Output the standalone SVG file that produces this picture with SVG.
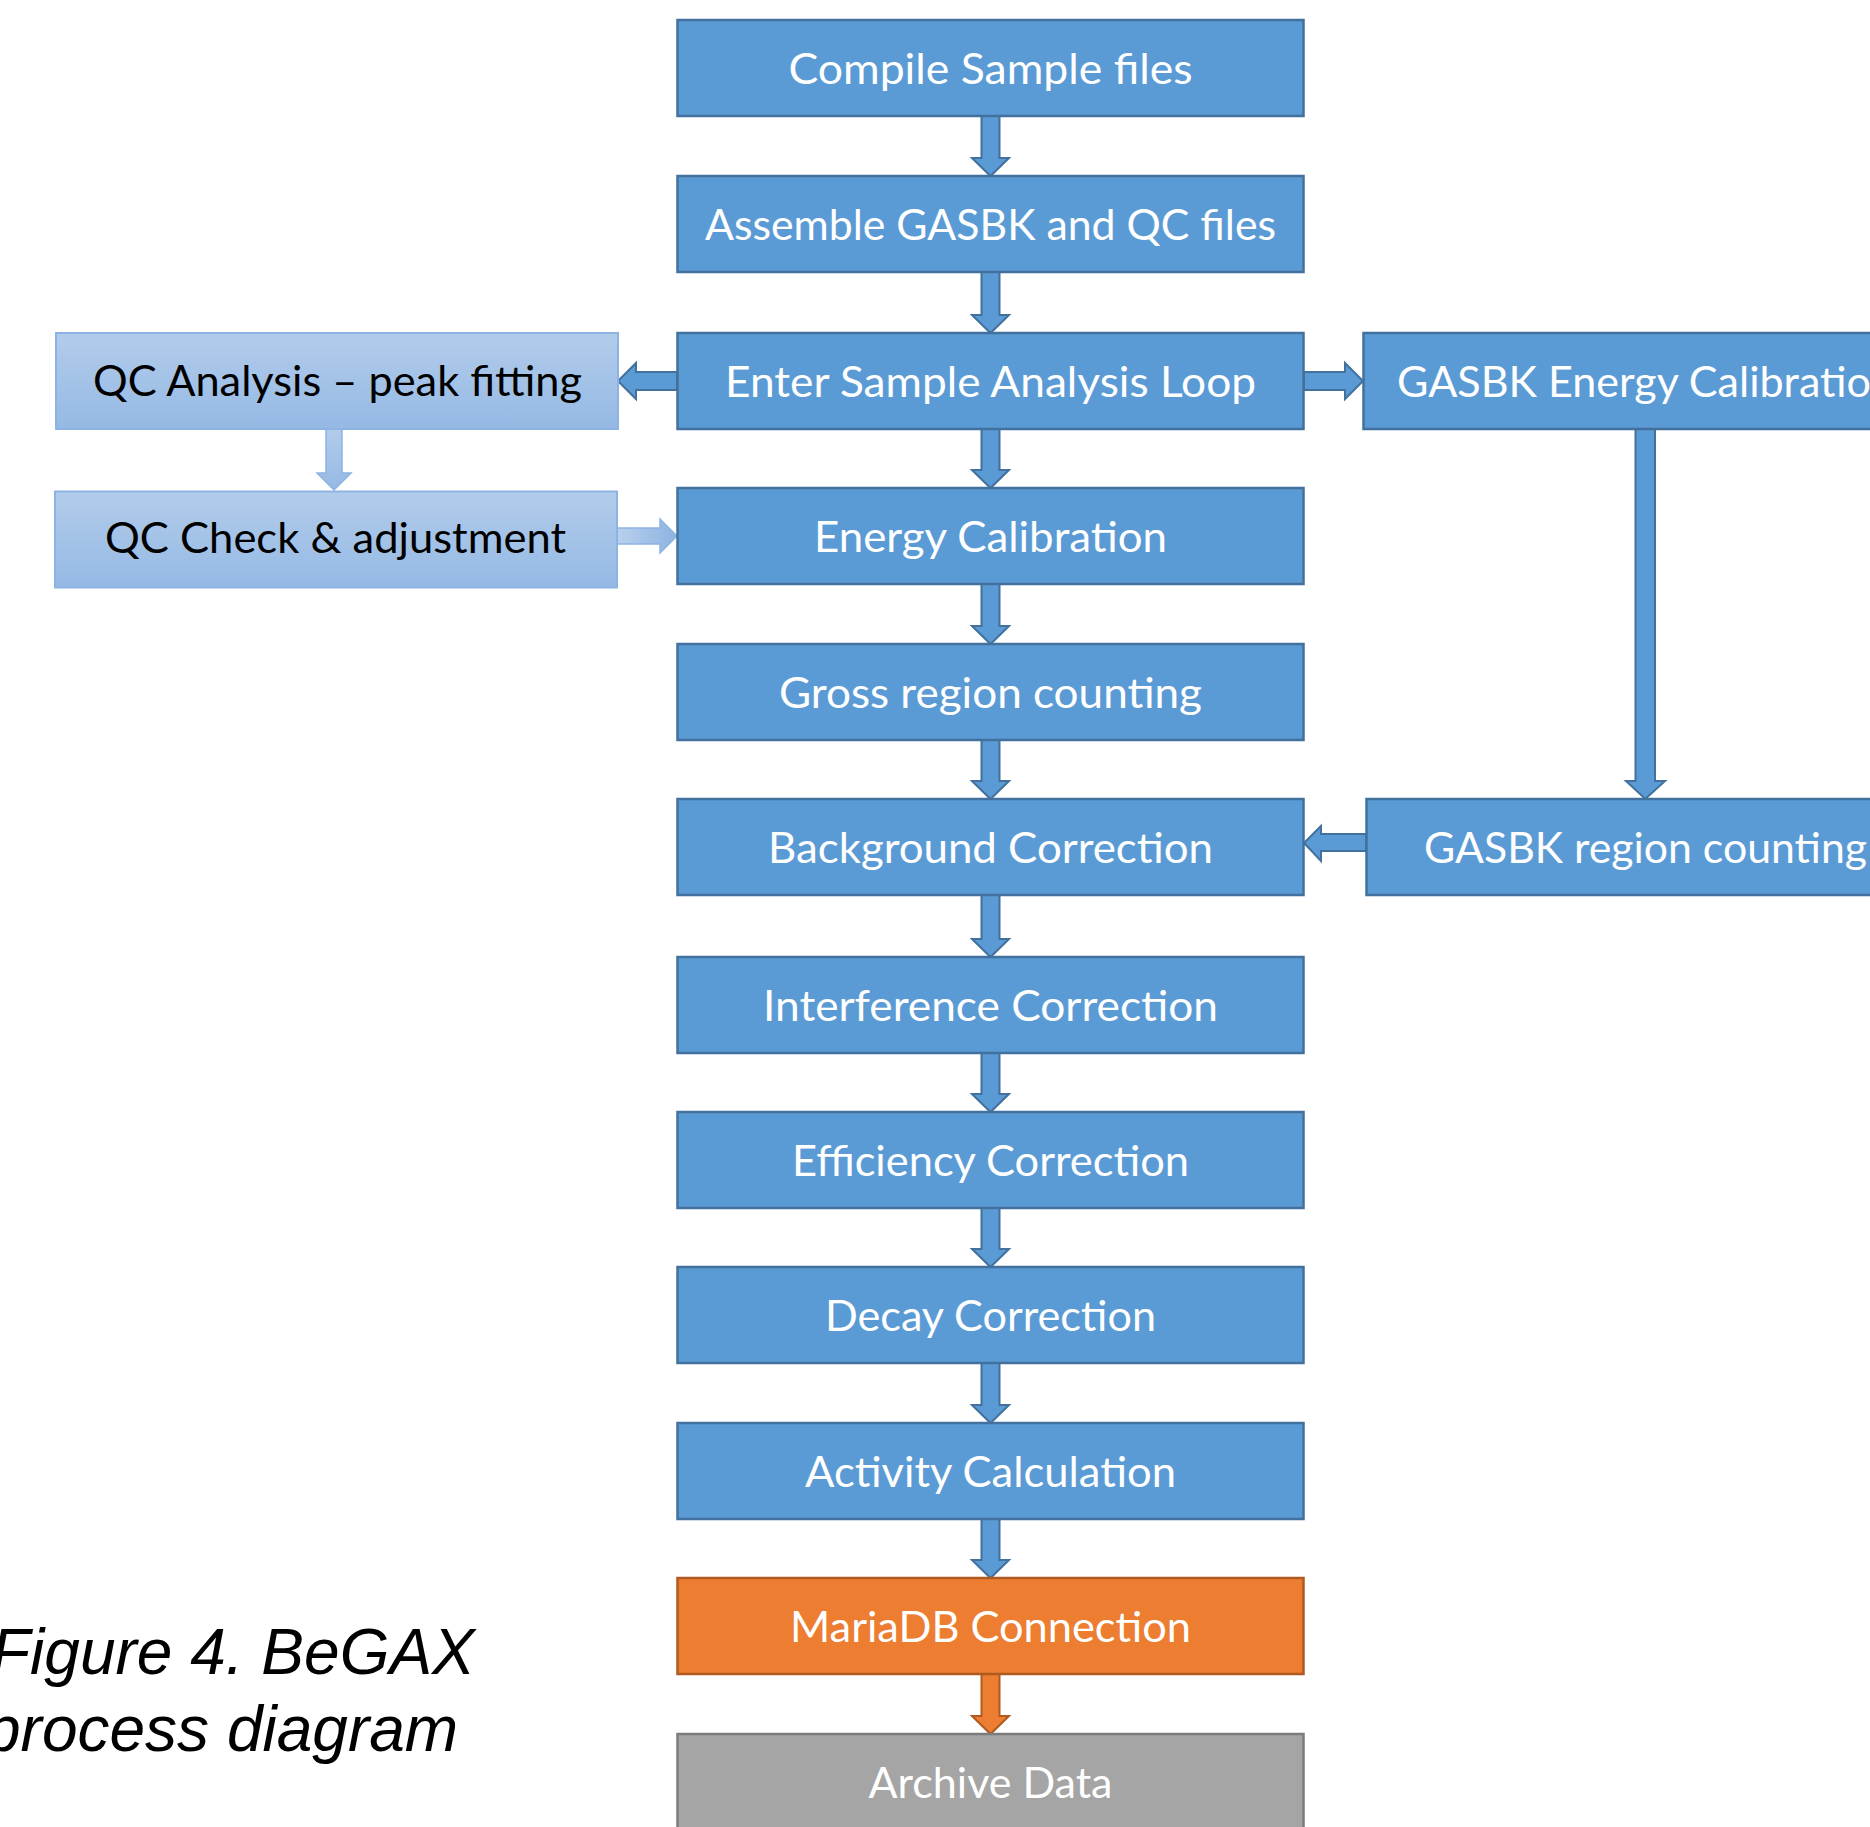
<svg xmlns="http://www.w3.org/2000/svg" width="1870" height="1827" viewBox="0 0 1870 1827">
<defs>
<linearGradient id="lg" x1="0" y1="0" x2="0" y2="1">
<stop offset="0" stop-color="#b2cceb"/>
<stop offset="1" stop-color="#95b9e4"/>
</linearGradient>
<linearGradient id="lgh" x1="0" y1="0" x2="1" y2="0">
<stop offset="0" stop-color="#b8d0ed"/>
<stop offset="1" stop-color="#8db3e2"/>
</linearGradient>
<style>
.main{fill:#5b9bd5;stroke:#41719c;stroke-width:2.5}
.light{fill:url(#lg);stroke:#8db3e2;stroke-width:2}
.orange{fill:#ed7d31;stroke:#ae5a21;stroke-width:2.5}
.gray{fill:#a5a5a5;stroke:#7c7c7c;stroke-width:2.5}
.t{font-family:Lato,"Open Sans","DejaVu Sans",sans-serif;font-size:42px;fill:#ffffff;text-anchor:middle}
.tl{font-family:Lato,"Open Sans","DejaVu Sans",sans-serif;font-size:42px;fill:#000000;text-anchor:middle}
.ts{font-family:Lato,"Open Sans","DejaVu Sans",sans-serif;font-size:42px;fill:#ffffff}
.ab{fill:#5b9bd5;stroke:#41719c;stroke-width:2}
.ao{fill:#ed7d31;stroke:#ae5a21;stroke-width:2}
.al{fill:url(#lg);stroke:#8db3e2;stroke-width:1.5}
.alh{fill:url(#lgh);stroke:#8db3e2;stroke-width:1.5}
.cap{font-family:"Liberation Sans",Arial,sans-serif;font-size:64px;font-style:italic;fill:#000000}
</style>
</defs>
<rect width="1870" height="1827" fill="#ffffff"/>

<g id="connectors">
<polygon class="ab" points="981.5,116 999.5,116 999.5,158 1009,158 990.5,176 972,158 981.5,158"/>
<polygon class="ab" points="981.5,272 999.5,272 999.5,315 1009,315 990.5,333 972,315 981.5,315"/>
<polygon class="ab" points="981.5,429 999.5,429 999.5,470 1009,470 990.5,488 972,470 981.5,470"/>
<polygon class="ab" points="981.5,584 999.5,584 999.5,626 1009,626 990.5,644 972,626 981.5,626"/>
<polygon class="ab" points="981.5,740 999.5,740 999.5,781 1009,781 990.5,799 972,781 981.5,781"/>
<polygon class="ab" points="981.5,895 999.5,895 999.5,939 1009,939 990.5,957 972,939 981.5,939"/>
<polygon class="ab" points="981.5,1053 999.5,1053 999.5,1094 1009,1094 990.5,1112 972,1094 981.5,1094"/>
<polygon class="ab" points="981.5,1208 999.5,1208 999.5,1249 1009,1249 990.5,1267 972,1249 981.5,1249"/>
<polygon class="ab" points="981.5,1363 999.5,1363 999.5,1405 1009,1405 990.5,1423 972,1405 981.5,1405"/>
<polygon class="ab" points="981.5,1519 999.5,1519 999.5,1560 1009,1560 990.5,1578 972,1560 981.5,1560"/>
<polygon class="ao" points="981.5,1674 999.5,1674 999.5,1716 1009,1716 990.5,1734 972,1716 981.5,1716"/>
<polygon class="ab" points="677,372 636,372 636,363 618,381 636,399 636,390 677,390"/>
<polygon class="ab" points="1304,372 1345,372 1345,363 1363,381 1345,399 1345,390 1304,390"/>
<polygon class="al" points="326,429 342,429 342,473 351,473 334,490 317,473 326,473"/>
<polygon class="alh" points="617,528 660,528 660,519 677,536 660,553 660,544 617,544"/>
<polygon class="ab" points="1635.5,429 1655,429 1655,781 1665,781 1645.3,799 1626,781 1635.5,781"/>
<polygon class="ab" points="1366,834 1321,834 1321,826 1304,843 1321,861 1321,851 1366,851"/>
</g>

<g id="n1"><rect class="main" x="677.5" y="20" width="626" height="96"/><text class="t" x="990.5" y="84" textLength="404" lengthAdjust="spacingAndGlyphs">Compile Sample files</text></g>
<g id="n2"><rect class="main" x="677.5" y="176" width="626" height="96"/><text class="t" x="990.5" y="240" textLength="571" lengthAdjust="spacingAndGlyphs">Assemble GASBK and QC files</text></g>
<g id="n3"><rect class="main" x="677.5" y="333" width="626" height="96"/><text class="t" x="990.5" y="397" textLength="531" lengthAdjust="spacingAndGlyphs">Enter Sample Analysis Loop</text></g>
<g id="n4"><rect class="main" x="677.5" y="488" width="626" height="96"/><text class="t" x="990.5" y="552" textLength="353" lengthAdjust="spacingAndGlyphs">Energy Calibration</text></g>
<g id="n5"><rect class="main" x="677.5" y="644" width="626" height="96"/><text class="t" x="990.5" y="708" textLength="423" lengthAdjust="spacingAndGlyphs">Gross region counting</text></g>
<g id="n6"><rect class="main" x="677.5" y="799" width="626" height="96"/><text class="t" x="990.5" y="863" textLength="445" lengthAdjust="spacingAndGlyphs">Background Correction</text></g>
<g id="n7"><rect class="main" x="677.5" y="957" width="626" height="96"/><text class="t" x="990.5" y="1021" textLength="455" lengthAdjust="spacingAndGlyphs">Interference Correction</text></g>
<g id="n8"><rect class="main" x="677.5" y="1112" width="626" height="96"/><text class="t" x="990.5" y="1176" textLength="397" lengthAdjust="spacingAndGlyphs">Efficiency Correction</text></g>
<g id="n9"><rect class="main" x="677.5" y="1267" width="626" height="96"/><text class="t" x="990.5" y="1331" textLength="331" lengthAdjust="spacingAndGlyphs">Decay Correction</text></g>
<g id="n10"><rect class="main" x="677.5" y="1423" width="626" height="96"/><text class="t" x="990.5" y="1487" textLength="371" lengthAdjust="spacingAndGlyphs">Activity Calculation</text></g>
<g id="n11"><rect class="orange" x="677.5" y="1578" width="626" height="96"/><text class="t" x="990.5" y="1642" textLength="401" lengthAdjust="spacingAndGlyphs">MariaDB Connection</text></g>
<g id="n12"><rect class="gray" x="677.5" y="1734" width="626" height="110"/><text class="t" x="990.5" y="1798" textLength="244" lengthAdjust="spacingAndGlyphs">Archive Data</text></g>

<g id="qc1"><rect class="light" x="56" y="333" width="562" height="96"/><text class="tl" x="337.5" y="396" textLength="489" lengthAdjust="spacingAndGlyphs">QC Analysis – peak fitting</text></g>
<g id="qc2"><rect class="light" x="55" y="491.5" width="562" height="96"/><text class="tl" x="335.5" y="553" textLength="461" lengthAdjust="spacingAndGlyphs">QC Check &amp; adjustment</text></g>

<g id="g1"><rect class="main" x="1363.5" y="333" width="627" height="96"/><text class="ts" x="1397" y="397" textLength="498" lengthAdjust="spacingAndGlyphs">GASBK Energy Calibration</text></g>
<g id="g2"><rect class="main" x="1366.5" y="799" width="600" height="96"/><text class="ts" x="1424" y="863" textLength="443" lengthAdjust="spacingAndGlyphs">GASBK region counting</text></g>

<g id="caption">
<text class="cap" x="-9" y="1674">Figure 4. BeGAX</text>
<text class="cap" x="-15" y="1751">process diagram</text>
</g>
</svg>
